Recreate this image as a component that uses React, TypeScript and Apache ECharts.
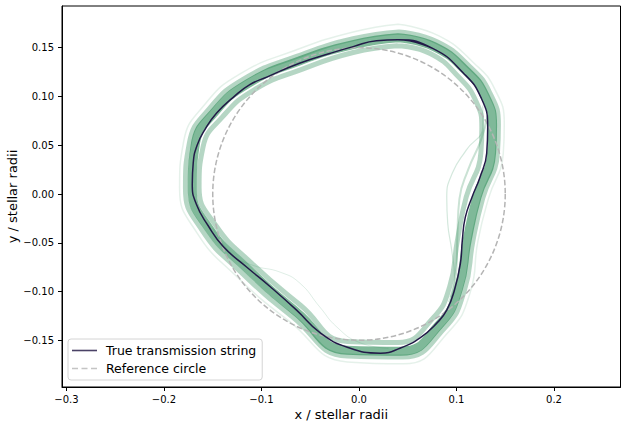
import React, { useEffect, useRef } from "react";
import * as echarts from "echarts";

// True transmission string (x, y in stellar radii); first and last points overlap to close the loop smoothly
const trueString: number[][] = [
  [0.076, 0.149], [0.040, 0.158], [0.018, 0.157], [-0.006, 0.151], [-0.030, 0.144], [-0.061, 0.134],
  [-0.094, 0.120], [-0.112, 0.112], [-0.129, 0.099], [-0.146, 0.083], [-0.158, 0.066],
  [-0.166, 0.050], [-0.170, 0.032], [-0.171, 0.010], [-0.167, -0.010], [-0.155, -0.032],
  [-0.139, -0.054], [-0.115, -0.075], [-0.091, -0.095], [-0.064, -0.119], [-0.040, -0.142],
  [-0.012, -0.157], [0.022, -0.163], [0.042, -0.158], [0.063, -0.147], [0.080, -0.132],
  [0.090, -0.119], [0.098, -0.098], [0.104, -0.071], [0.106, -0.047], [0.109, -0.024],
  [0.116, -0.003], [0.124, 0.017], [0.131, 0.042], [0.132, 0.069], [0.125, 0.099],
  [0.107, 0.124], [0.076, 0.149], [0.040, 0.158], [0.018, 0.157],
];

// Posterior sample strings
const sampleCore: number[][] = [
  [0.040, 0.160], [-0.006, 0.153], [-0.062, 0.136], [-0.114, 0.113], [-0.148, 0.084],
  [-0.168, 0.050], [-0.171, 0.006], [-0.154, -0.035], [-0.115, -0.076], [-0.064, -0.121],
  [-0.012, -0.160], [0.043, -0.161], [0.083, -0.133], [0.102, -0.097], [0.111, -0.047],
  [0.121, -0.003], [0.136, 0.042], [0.137, 0.070], [0.129, 0.101], [0.110, 0.126],
  [0.077, 0.151], [0.040, 0.160],
];
const sampleOuter: number[][] = [
  [0.041, 0.166], [-0.006, 0.159], [-0.064, 0.141], [-0.118, 0.118], [-0.153, 0.088],
  [-0.174, 0.052], [-0.178, 0.006], [-0.161, -0.037], [-0.121, -0.080], [-0.068, -0.126],
  [-0.012, -0.166], [0.045, -0.167], [0.088, -0.137], [0.108, -0.099], [0.117, -0.047],
  [0.127, -0.004], [0.142, 0.042], [0.143, 0.071], [0.134, 0.104], [0.114, 0.130],
  [0.080, 0.156], [0.041, 0.166],
];
const sampleInner: number[][] = [
  [0.039, 0.152], [-0.006, 0.145], [-0.058, 0.128], [-0.107, 0.107], [-0.140, 0.079],
  [-0.160, 0.048], [-0.164, 0.007], [-0.147, -0.032], [-0.110, -0.071], [-0.060, -0.114],
  [-0.012, -0.151], [0.040, -0.152], [0.076, -0.127], [0.093, -0.095], [0.101, -0.047],
  [0.110, -0.003], [0.125, 0.042], [0.126, 0.068], [0.120, 0.095], [0.103, 0.119],
  [0.073, 0.144], [0.039, 0.152],
];
const sampleFar: number[][] = [
  [0.040, 0.174], [-0.006, 0.166], [-0.066, 0.147], [-0.122, 0.123], [-0.158, 0.092],
  [-0.180, 0.053], [-0.184, 0.006], [-0.166, -0.040], [-0.126, -0.084], [-0.072, -0.130],
  [-0.012, -0.172], [0.046, -0.174], [0.092, -0.141], [0.114, -0.101], [0.122, -0.048],
  [0.133, -0.004], [0.148, 0.042], [0.149, 0.072], [0.139, 0.108], [0.118, 0.134],
  [0.082, 0.162], [0.040, 0.174],
];
const sampleBulge: number[][] = [
  [-0.150, -0.035], [-0.130, -0.062], [-0.109, -0.073], [-0.081, -0.080], [-0.061, -0.091],
  [-0.040, -0.116], [-0.023, -0.136], [0.000, -0.152], [0.030, -0.158],
];
const sampleRightIn: number[][] = [
  [0.127, 0.090], [0.127, 0.069], [0.110, 0.045], [0.096, 0.022], [0.090, -0.003],
  [0.091, -0.030], [0.095, -0.057], [0.098, -0.085], [0.092, -0.110],
];
const sampleRightMid: number[][] = [
  [0.132, 0.080], [0.125, 0.055], [0.112, 0.025], [0.103, -0.005], [0.101, -0.040],
  [0.100, -0.075], [0.094, -0.105],
];

// Reference circle: centre x, centre y, radius
const referenceCircle: number[][] = [[0, 0, 0.15]];

const xTicks = [-0.3, -0.2, -0.1, 0.0, 0.1, 0.2];
const yTicks = [-0.15, -0.1, -0.05, 0.0, 0.05, 0.1, 0.15];

const FONT = "DejaVu Sans";
const GREEN = "#2a8a55";

const fmt = (v: number, d: number) => {
  const s = Math.abs(v).toFixed(d);
  return (v < -1e-9 ? "\u2212" : "") + s;
};

function greenLine(data: number[][], width: number, opacity: number) {
  return {
    type: "line",
    data,
    smooth: 0.5,
    showSymbol: false,
    symbol: "none",
    silent: true,
    z: 2,
    lineStyle: { color: GREEN, width, opacity, join: "round", cap: "round" },
  };
}

export default function App() {
  const ref = useRef<HTMLDivElement>(null);
  useEffect(() => {
    if (!ref.current) return;
    const chart = echarts.init(ref.current, undefined, { renderer: "svg" });
    chart.setOption({
      animation: false,
      grid: {
        left: 62,
        top: 6,
        width: 558.5,
        height: 381,
        show: true,
        borderColor: "#000",
        borderWidth: 1,
        backgroundColor: "transparent",
        outerBoundsMode: "none",
        containLabel: false,
      },
      legend: {
        left: 68,
        top: 339,
        orient: "vertical",
        padding: [5, 6, 5, 4],
        itemGap: 5,
        itemWidth: 25,
        itemHeight: 12,
        borderColor: "#d4d4d4",
        borderWidth: 1,
        borderRadius: 3,
        backgroundColor: "rgba(255,255,255,0.8)",
        textStyle: { fontFamily: FONT, fontSize: 12.5, color: "#000", padding: [0, 0, 0, 4] },
        data: [
          {
            name: "True transmission string",
            icon: "path://M0,0H25V1.6H0Z",
            itemStyle: { color: "#4a4266" },
          },
          {
            name: "Reference circle",
            icon: "path://M0,0H6V1.6H0Z M9.5,0H15.5V1.6H9.5Z M19,0H25V1.6H19Z",
            itemStyle: { color: "#c4c4c4" },
          },
        ],
      },
      xAxis: {
        type: "value",
        min: -0.3046,
        max: 0.2682,
        splitLine: { show: false },
        axisLine: { show: true, onZero: false, lineStyle: { color: "#000", width: 1 } },
        axisTick: { show: true, length: 4, lineStyle: { color: "#000" }, customValues: xTicks },
        axisLabel: {
          customValues: xTicks,
          formatter: (v: number) => fmt(v, 1),
          fontFamily: FONT,
          fontSize: 10,
          color: "#000",
          margin: 7,
        },
        name: "x / stellar radii",
        nameLocation: "middle",
        nameGap: 21,
        nameMoveOverlap: false,
        nameTextStyle: { fontFamily: FONT, fontSize: 13, color: "#000" },
      },
      yAxis: {
        type: "value",
        min: -0.1977,
        max: 0.1926,
        splitLine: { show: false },
        axisLine: { show: true, onZero: false, lineStyle: { color: "#000", width: 1 } },
        axisTick: { show: true, length: 4, lineStyle: { color: "#000" }, customValues: yTicks },
        axisLabel: {
          customValues: yTicks,
          formatter: (v: number) => fmt(v, 2),
          fontFamily: FONT,
          fontSize: 10,
          color: "#000",
          margin: 8,
        },
        name: "y / stellar radii",
        nameLocation: "middle",
        nameGap: 43,
        nameMoveOverlap: false,
        nameTextStyle: { fontFamily: FONT, fontSize: 13, color: "#000" },
      },
      series: [
        greenLine(sampleFar, 1.5, 0.12),
        greenLine(sampleOuter, 5, 0.35),
        greenLine(sampleInner, 5, 0.35),
        greenLine(sampleCore, 9, 0.6),
        greenLine(sampleBulge, 1, 0.15),
        greenLine(sampleRightIn, 1.2, 0.2),
        greenLine(sampleRightMid, 2, 0.25),
        {
          type: "custom",
          name: "Reference circle",
          data: referenceCircle,
          z: 3,
          silent: true,
          itemStyle: { color: "#b5b5b5" },
          renderItem: (_params: any, api: any) => {
            const c = api.coord([api.value(0), api.value(1)]);
            const r = api.size([api.value(2), 0])[0];
            return {
              type: "circle",
              shape: { cx: c[0], cy: c[1], r },
              style: { fill: "none", stroke: "#b5b5b5", lineWidth: 1.5, lineDash: [5.5, 2.5] },
            };
          },
        },
        {
          type: "line",
          name: "True transmission string",
          data: trueString,
          smooth: 0.5,
          showSymbol: false,
          symbol: "none",
          z: 4,
          color: "#221a48",
          lineStyle: { color: "#221a48", width: 1.5 },
        },
      ],
    });
    return () => chart.dispose();
  }, []);
  return (
    <div
      ref={ref}
      style={{ position: "fixed", left: 0, top: 0, width: 627, height: 428, background: "#fff" }}
    />
  );
}
